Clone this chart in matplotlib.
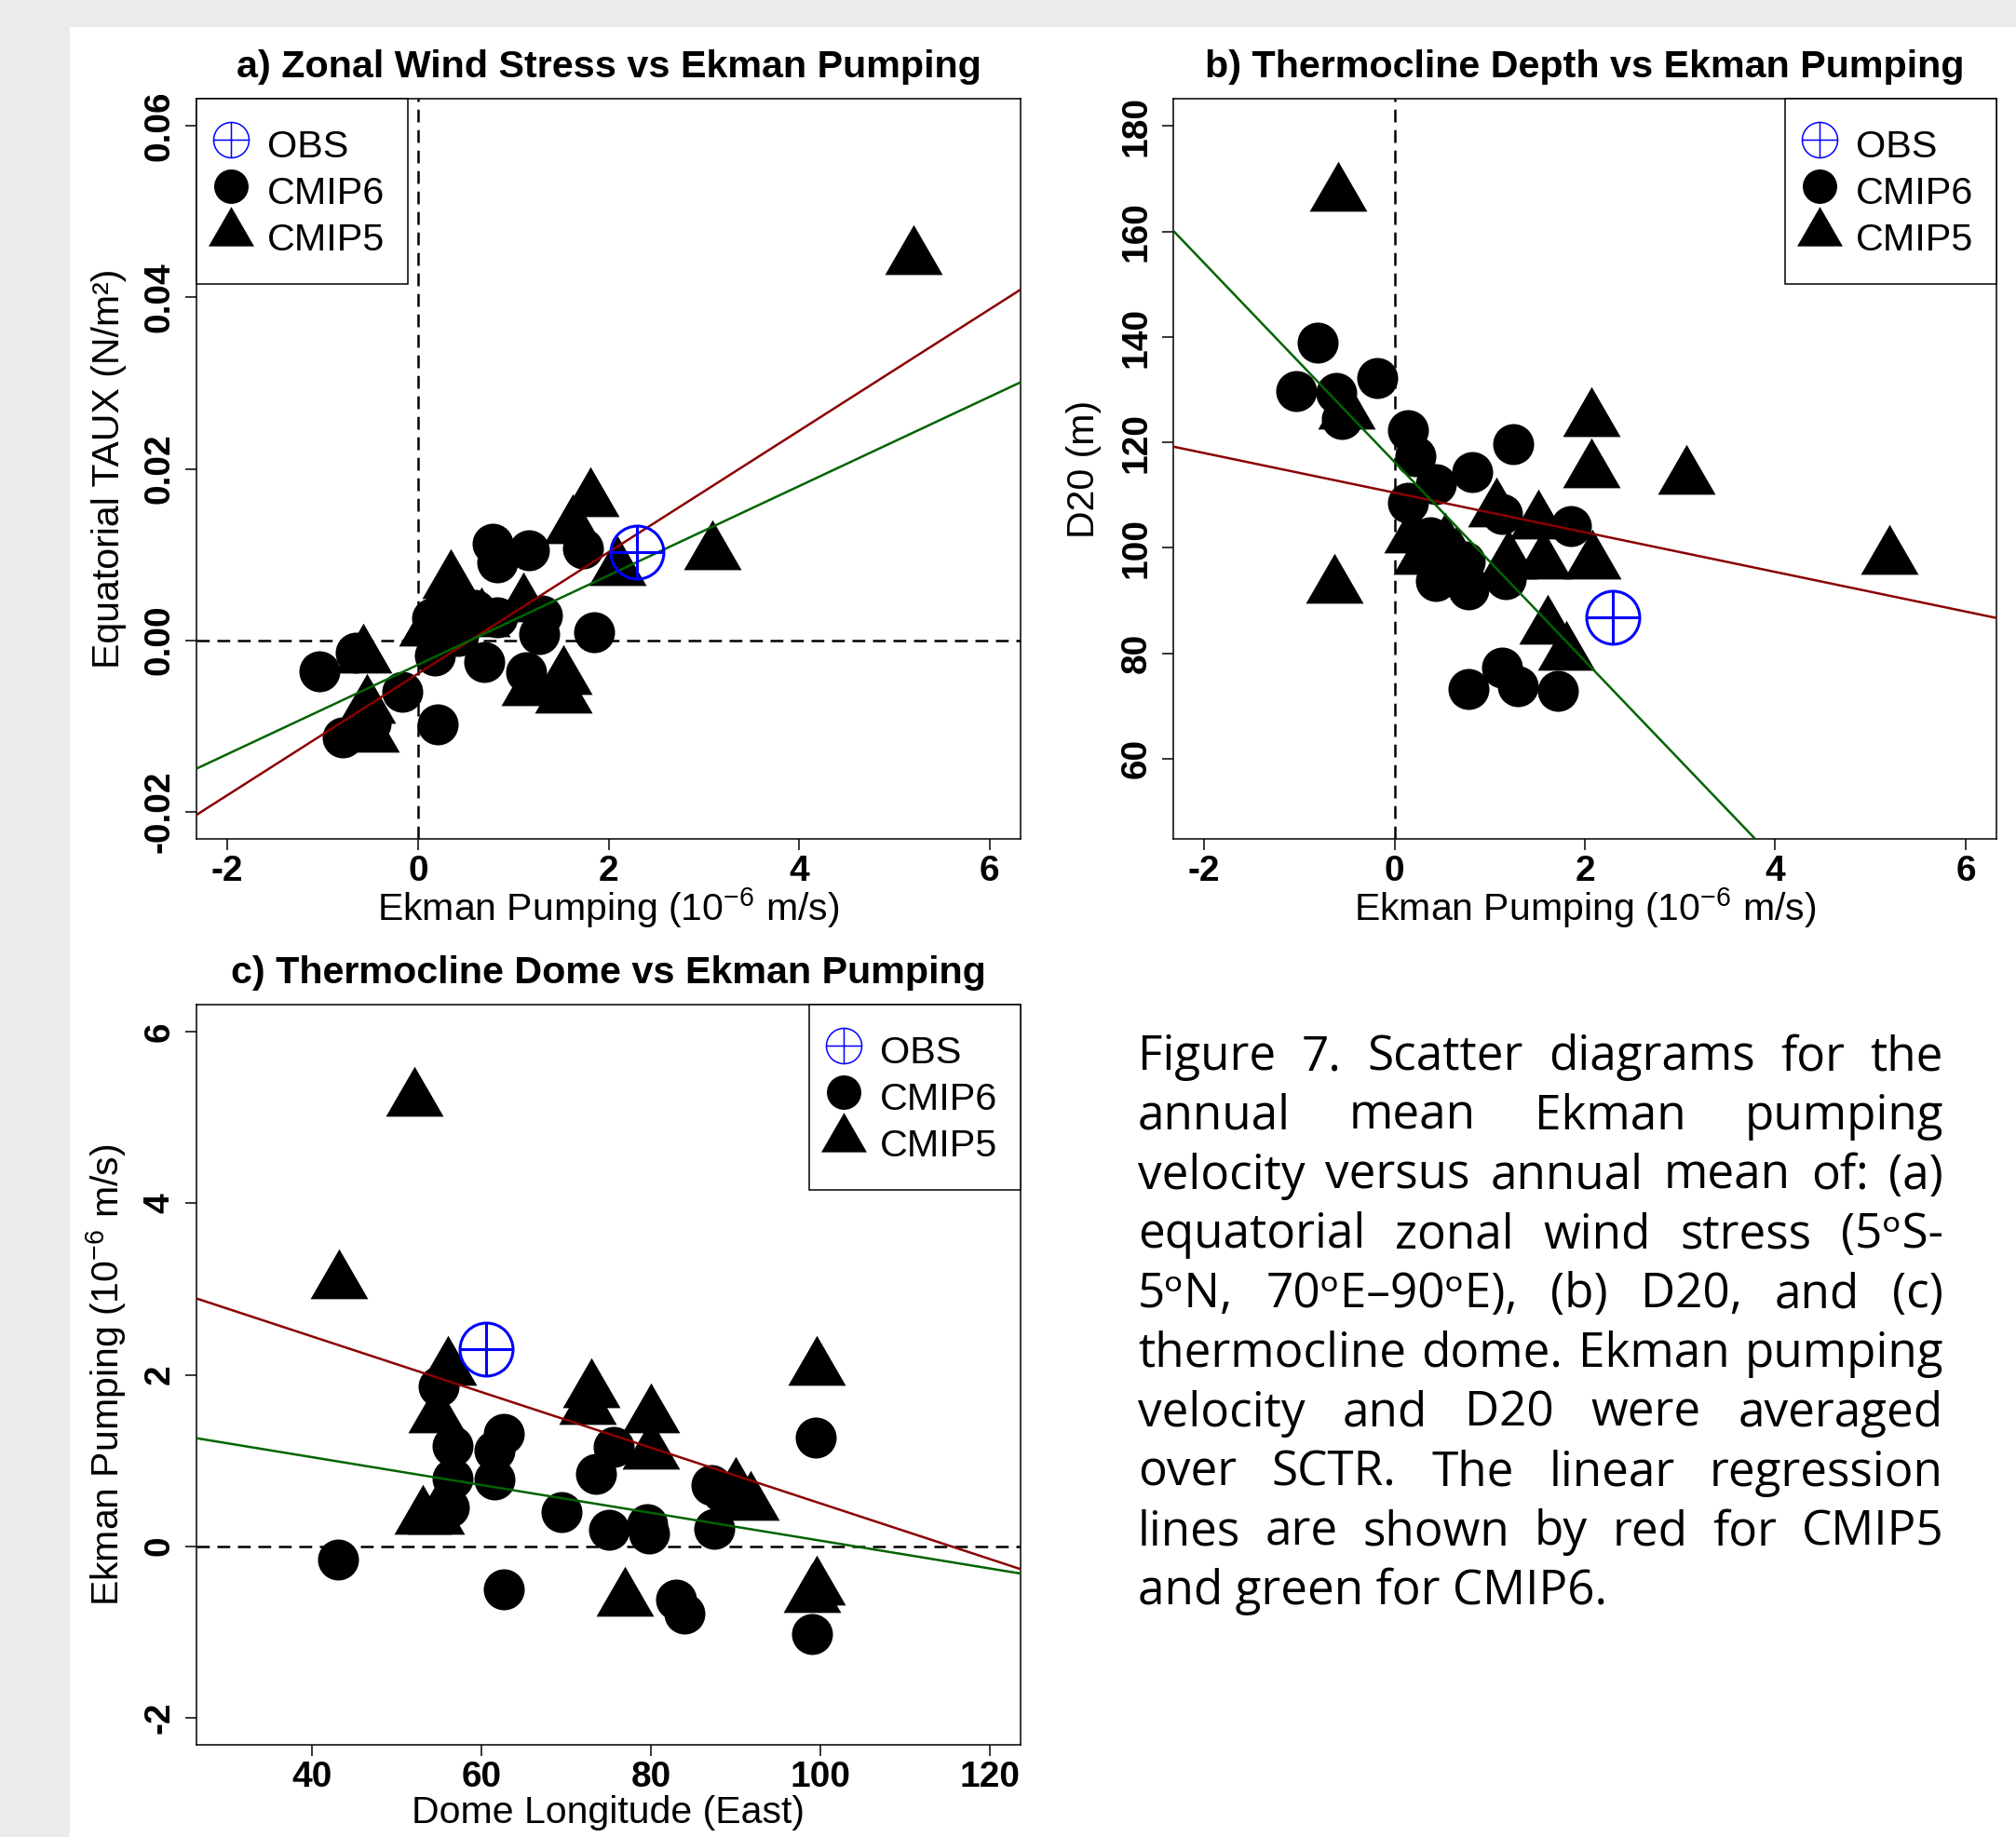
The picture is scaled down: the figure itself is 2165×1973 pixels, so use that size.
import matplotlib
matplotlib.use("Agg")
import matplotlib.pyplot as plt
from matplotlib.path import Path
from matplotlib.lines import Line2D
from matplotlib.patches import Rectangle

# ── figure geometry (pixels of the target picture) ───────────────────────────
W, H, DPI = 2165, 1973, 100

plt.rcParams["font.family"] = ["Liberation Sans", "DejaVu Sans"]
plt.rcParams["mathtext.fontset"] = "custom"
plt.rcParams["mathtext.rm"] = "Liberation Sans"
plt.rcParams["mathtext.it"] = "Liberation Sans:italic"
plt.rcParams["mathtext.bf"] = "Liberation Sans:bold"
plt.rcParams["axes.unicode_minus"] = False

# ── a) zonal wind stress vs Ekman pumping ────────────────────────────────────
a_cmip6_x = [-1.03, -0.65, -0.79, -0.50, -0.16, 0.21, 0.18, 0.15, 0.70, 0.78, 0.83,
             1.16, 1.73, 1.85, 1.30, 1.27, 1.14, 0.51, 0.42, 0.83, 0.30, 0.60]
a_cmip6_y = [-0.0036, -0.0015, -0.0113, -0.0097, -0.0060, -0.0098, -0.0018, 0.0026,
             -0.0025, 0.0112, 0.0091, 0.0105, 0.0107, 0.0009, 0.0029, 0.0007,
             -0.0037, 0.0029, 0.0005, 0.0027, 0.0015, 0.0035]
a_cmip5_x = [5.20, 3.09, 1.81, 1.62, 2.09, 0.34, 0.67, 1.11, -0.57, -0.54, -0.50,
             1.53, 1.17, 1.53, 0.22, 0.28, 0.10]
a_cmip5_y = [0.0446, 0.0102, 0.0164, 0.0132, 0.0083, 0.0068, 0.0023, 0.0041,
             -0.0019, -0.0078, -0.0111, -0.0044, -0.0057, -0.0066, 0.0030,
             0.0045, 0.0012]
a_obs = (2.30, 0.0103)
a_fit_cmip5 = (-0.00392, 0.00709)    # intercept, slope
a_fit_cmip6 = (-0.00288, 0.005215)

# ── b) thermocline depth vs Ekman pumping ────────────────────────────────────
b_cmip6_x = [-0.81, -1.03, -0.61, -0.55, -0.18, 0.14, 0.22, 0.43, 0.14, 0.82, 1.25,
             1.13, 1.85, 0.43, 0.78, 1.17, 0.74, 0.38, 1.13, 0.78, 1.30, 1.72]
b_cmip6_y = [138.9, 129.8, 129.4, 124.4, 132.2, 122.4, 117.4, 112.1, 108.5, 114.4,
             119.7, 106.5, 104.1, 93.8, 92.1, 94.1, 97.4, 102.0, 77.3, 73.3, 73.8, 72.9]
b_cmip5_x = [-0.59, -0.63, -0.50, 0.19, 0.29, 0.53, 0.65, 1.07, 1.51, 1.20, 1.56,
             2.08, 1.61, 1.80, 2.07, 2.07, 3.07, 5.20]
b_cmip5_y = [167.0, 92.7, 125.7, 102.2, 98.1, 100.5, 98.0, 107.2, 104.9, 97.2, 97.2,
             97.2, 84.9, 80.0, 124.3, 114.5, 113.3, 98.2]
b_obs = (2.29, 86.8)
b_fit_cmip5 = (110.47, -3.758)
b_fit_cmip6 = (116.3, -18.87)

# ── c) thermocline dome longitude vs Ekman pumping ───────────────────────────
c_cmip6_x = [43.1, 55.0, 56.6, 56.6, 56.2, 62.6, 61.5, 61.5, 62.6, 69.5, 73.5,
             75.6, 75.0, 79.6, 79.8, 87.1, 87.5, 83.0, 84.0, 99.4, 99.0, 88.5]
c_cmip6_y = [-0.16, 1.86, 1.17, 0.79, 0.45, 1.31, 1.11, 0.78, -0.50, 0.40, 0.84,
             1.16, 0.19, 0.26, 0.15, 0.71, 0.20, -0.62, -0.79, 1.27, -1.03, 0.62]
c_cmip5_x = [52.1, 43.2, 56.0, 54.7, 73.0, 72.5, 80.0, 80.0, 90.0, 91.7, 99.5,
             99.5, 99.0, 76.9, 53.1, 54.6]
c_cmip5_y = [5.21, 3.08, 2.07, 1.52, 1.81, 1.61, 1.52, 1.09, 0.66, 0.50, 2.07,
             -0.49, -0.58, -0.62, 0.33, 0.33]
c_obs = (60.6, 2.30)
c_fit_cmip5 = (3.748, -0.0325)
c_fit_cmip6 = (1.688, -0.01625)

ekman_ticks = [-2, 0, 2, 4, 6]
taux_ticks = [-0.02, 0.0, 0.02, 0.04, 0.06]
taux_labels = ["-0.02", "0.00", "0.02", "0.04", "0.06"]
d20_ticks = [60, 80, 100, 120, 140, 160, 180]
lon_ticks = [40, 60, 80, 100, 120]
ek_y_ticks = [-2, 0, 2, 4, 6]

caption_lines = [
    "Figure 7. Scatter diagrams for the",
    "annual mean Ekman pumping",
    "velocity versus annual mean of: (a)",
    "equatorial zonal wind stress (5\u1d52S-",
    "5\u1d52N, 70\u1d52E\u201390\u1d52E), (b) D20, and (c)",
    "thermocline dome. Ekman pumping",
    "velocity and D20 were averaged",
    "over SCTR. The linear regression",
    "lines are shown by red for CMIP5",
    "and green for CMIP6.",
]

# ── markers in the style of R's pch 10 / 17 / 19 ─────────────────────────────
TRI = [(0.0, 1.0), (-0.866, -0.5), (0.866, -0.5)]
OBS = Path.make_compound_path(
    Path.unit_circle(),
    Path([(-1, 0), (1, 0), (0, -1), (0, 1)],
         [Path.MOVETO, Path.LINETO, Path.MOVETO, Path.LINETO]))

RED, GREEN, BLUE = "#8b0000", "#006400", "#0000ff"
TICK_FS, LABEL_FS, TITLE_FS, LEG_FS = 28, 29.5, 29.7, 29.8

fig = plt.figure(figsize=(W / DPI, H / DPI), dpi=DPI)
fig.patch.set_facecolor("#ececea")
fig.add_artist(Rectangle((75 / W, 0), 1, 1 - 29 / H, transform=fig.transFigure,
                         facecolor="white", edgecolor="none", zorder=-10))


def panel(px_box, title, xlabel, ylabel, xlim, ylim, xt, xtl, yt, ytl,
          c6x, c6y, c5x, c5y, obs, fit5, fit6, hline, vline, legloc, ylab_x):
    l, t, r, b = px_box
    ax = fig.add_axes([l / W, 1 - b / H, (r - l) / W, (b - t) / H])
    ax.set_xlim(*xlim)
    ax.set_ylim(*ylim)

    if hline:
        ax.axhline(0, color="black", lw=1.8, dashes=(5.5, 3.3), zorder=1)
    if vline:
        ax.axvline(0, color="black", lw=1.8, dashes=(5.5, 3.3), zorder=1)

    ax.plot(c6x, c6y, ls="none", marker="o", ms=31.7, mfc="black", mec="black",
            mew=0, zorder=2)
    ax.plot(c5x, c5y, ls="none", marker=TRI, ms=51.5, mfc="black", mec="black",
            mew=0, zorder=2)
    ax.axline((0, fit5[0]), slope=fit5[1], color=RED, lw=1.8, zorder=3)
    ax.axline((0, fit6[0]), slope=fit6[1], color=GREEN, lw=1.8, zorder=3)
    ax.plot([obs[0]], [obs[1]], ls="none", marker=OBS, ms=41, mfc="none",
            mec=BLUE, mew=2.2, zorder=4)

    ax.set_xticks(xt, xtl, fontsize=TICK_FS, fontweight="bold")
    ax.set_yticks(yt, ytl, fontsize=TICK_FS, fontweight="bold",
                  rotation=90, ha="center", va="center")
    ax.tick_params(axis="both", direction="out", length=8.6, width=1.1)
    ax.tick_params(axis="x", pad=3.5)
    ax.tick_params(axis="y", pad=20)
    for s in ax.spines.values():
        s.set_linewidth(1.1)

    ax.text(0.5, 1.0289, title, transform=ax.transAxes, ha="center",
            va="baseline", fontsize=TITLE_FS, fontweight="bold")
    ax.text(0.5, -0.1107 if "Ekman" in xlabel else -0.1057, xlabel,
            transform=ax.transAxes, ha="center", va="baseline", fontsize=LABEL_FS)
    ax.text(ylab_x, 0.5, ylabel, transform=ax.transAxes, ha="center",
            va="baseline", rotation=90, rotation_mode="anchor", fontsize=LABEL_FS)

    handles = [
        Line2D([], [], ls="none", marker=OBS, ms=27.4, mfc="none", mec=BLUE, mew=1.1),
        Line2D([], [], ls="none", marker="o", ms=26.6, mfc="black", mec="black", mew=0),
        Line2D([], [], ls="none", marker=TRI, ms=40.7, mfc="black", mec="black", mew=0),
    ]
    leg = ax.legend(handles, ["OBS", "CMIP6", "CMIP5"], loc=legloc,
                    borderaxespad=0, fontsize=LEG_FS, fancybox=False,
                    edgecolor="black", framealpha=1, borderpad=0.6,
                    labelspacing=0.02, handleheight=1.45, handlelength=0.57,
                    handletextpad=0.66, numpoints=1)
    leg.get_frame().set_linewidth(1.1)
    leg.set_zorder(5)
    return ax


ek_label = r"Ekman Pumping (10$^{-6}$ m/s)"
ek_lim = (-2.324, 6.324)

panel((211, 106, 1096, 901), "a) Zonal Wind Stress vs Ekman Pumping", ek_label,
      "Equatorial TAUX (N/m\u00b2)", ek_lim, (-0.0232, 0.0632),
      ekman_ticks, [str(v) for v in ekman_ticks], taux_ticks, taux_labels,
      a_cmip6_x, a_cmip6_y, a_cmip5_x, a_cmip5_y, a_obs, a_fit_cmip5, a_fit_cmip6,
      True, True, "upper left", -0.094)

panel((1260, 106, 2144, 901), "b) Thermocline Depth vs Ekman Pumping", ek_label,
      "D20 (m)", ek_lim, (44.8, 185.2),
      ekman_ticks, [str(v) for v in ekman_ticks], d20_ticks, [str(v) for v in d20_ticks],
      b_cmip6_x, b_cmip6_y, b_cmip5_x, b_cmip5_y, b_obs, b_fit_cmip5, b_fit_cmip6,
      False, True, "upper right", -0.096)

panel((211, 1079, 1096, 1874), "c) Thermocline Dome vs Ekman Pumping",
      "Dome Longitude (East)", ek_label, (26.4, 123.6), (-2.32, 6.32),
      lon_ticks, [str(v) for v in lon_ticks], ek_y_ticks, [str(v) for v in ek_y_ticks],
      c_cmip6_x, c_cmip6_y, c_cmip5_x, c_cmip5_y, c_obs, c_fit_cmip5, c_fit_cmip6,
      True, False, "upper right", -0.094)

# ── justified caption ────────────────────────────────────────────────────────
CAP_FONT = ["Open Sans", "DejaVu Sans"]
CAP_FS = 36.9
cap_left, cap_right = 1222, 2087
base0, step = 1149, 63.8
renderer = fig.canvas.get_renderer()
for i, line in enumerate(caption_lines):
    yb = 1 - (base0 + i * step) / H
    if i == len(caption_lines) - 1:
        fig.text(cap_left / W, yb, line, family=CAP_FONT, fontsize=CAP_FS,
                 va="baseline", ha="left")
        continue
    words = line.split(" ")
    texts = [fig.text(0, yb, w_, family=CAP_FONT, fontsize=CAP_FS,
                      va="baseline", ha="left") for w_ in words]
    widths = [t_.get_window_extent(renderer).width for t_ in texts]
    gap = (cap_right - cap_left - sum(widths)) / (len(words) - 1)
    x = cap_left
    for t_, w_ in zip(texts, widths):
        t_.set_x(x / W)
        x += w_ + gap

fig.savefig("out.png", dpi=DPI, facecolor=fig.get_facecolor())
